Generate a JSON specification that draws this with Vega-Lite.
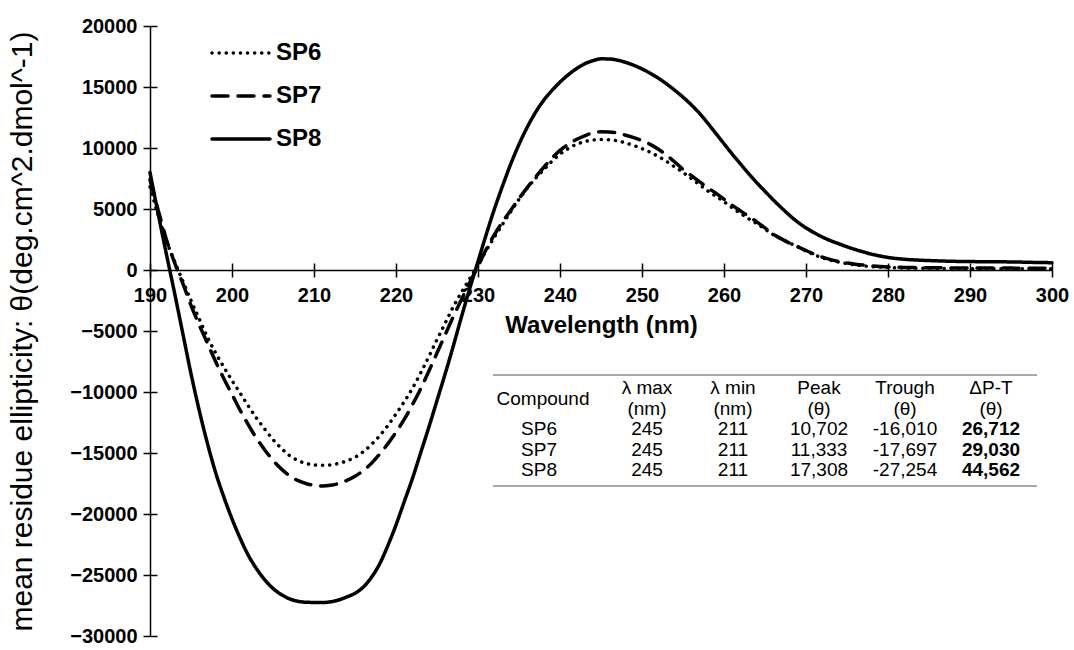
{
  "$schema": "https://vega.github.io/schema/vega-lite/v6.json",
  "width": 902,
  "height": 610,
  "autosize": {"type": "none"},
  "padding": {"left": 150, "top": 26, "right": 22, "bottom": 14},
  "background": "white",
  "config": {"view": {"stroke": null}, "font": "Liberation Sans"},
  "datasets": {
    "cd": [
      {"wl":190,"SP6":6800,"SP7":7400,"SP8":8000},
      {"wl":191,"SP6":4500,"SP7":4900,"SP8":4600},
      {"wl":192,"SP6":2400,"SP7":2500,"SP8":1300},
      {"wl":193,"SP6":700,"SP7":600,"SP8":-1900},
      {"wl":194,"SP6":-900,"SP7":-1100,"SP8":-5200},
      {"wl":195,"SP6":-2500,"SP7":-2900,"SP8":-8500},
      {"wl":196,"SP6":-4000,"SP7":-4500,"SP8":-11500},
      {"wl":197,"SP6":-5500,"SP7":-6000,"SP8":-14200},
      {"wl":198,"SP6":-6800,"SP7":-7500,"SP8":-16600},
      {"wl":199,"SP6":-7950,"SP7":-8900,"SP8":-18600},
      {"wl":200,"SP6":-9050,"SP7":-10200,"SP8":-20400},
      {"wl":201,"SP6":-10100,"SP7":-11500,"SP8":-22000},
      {"wl":202,"SP6":-11150,"SP7":-12700,"SP8":-23400},
      {"wl":203,"SP6":-12150,"SP7":-13800,"SP8":-24500},
      {"wl":204,"SP6":-13050,"SP7":-14750,"SP8":-25400},
      {"wl":205,"SP6":-13900,"SP7":-15600,"SP8":-26100},
      {"wl":206,"SP6":-14600,"SP7":-16300,"SP8":-26600},
      {"wl":207,"SP6":-15200,"SP7":-16850,"SP8":-26950},
      {"wl":208,"SP6":-15600,"SP7":-17250,"SP8":-27150},
      {"wl":209,"SP6":-15850,"SP7":-17500,"SP8":-27230},
      {"wl":210,"SP6":-15980,"SP7":-17650,"SP8":-27250},
      {"wl":211,"SP6":-16010,"SP7":-17697,"SP8":-27254},
      {"wl":212,"SP6":-15980,"SP7":-17650,"SP8":-27200},
      {"wl":213,"SP6":-15850,"SP7":-17500,"SP8":-27050},
      {"wl":214,"SP6":-15650,"SP7":-17250,"SP8":-26800},
      {"wl":215,"SP6":-15350,"SP7":-16900,"SP8":-26500},
      {"wl":216,"SP6":-14900,"SP7":-16450,"SP8":-26000},
      {"wl":217,"SP6":-14300,"SP7":-15850,"SP8":-25200},
      {"wl":218,"SP6":-13600,"SP7":-15100,"SP8":-24100},
      {"wl":219,"SP6":-12750,"SP7":-14250,"SP8":-22600},
      {"wl":220,"SP6":-11800,"SP7":-13300,"SP8":-20900},
      {"wl":221,"SP6":-10800,"SP7":-12250,"SP8":-19000},
      {"wl":222,"SP6":-9700,"SP7":-11050,"SP8":-17100},
      {"wl":223,"SP6":-8450,"SP7":-9750,"SP8":-15000},
      {"wl":224,"SP6":-7100,"SP7":-8300,"SP8":-12900},
      {"wl":225,"SP6":-5700,"SP7":-6800,"SP8":-10700},
      {"wl":226,"SP6":-4350,"SP7":-5300,"SP8":-8500},
      {"wl":227,"SP6":-3000,"SP7":-3800,"SP8":-6200},
      {"wl":228,"SP6":-1800,"SP7":-2400,"SP8":-3800},
      {"wl":229,"SP6":-700,"SP7":-1000,"SP8":-1500},
      {"wl":230,"SP6":400,"SP7":300,"SP8":700},
      {"wl":231,"SP6":1600,"SP7":1700,"SP8":2900},
      {"wl":232,"SP6":2700,"SP7":2900,"SP8":5000},
      {"wl":233,"SP6":3750,"SP7":3950,"SP8":6900},
      {"wl":234,"SP6":4800,"SP7":4900,"SP8":8700},
      {"wl":235,"SP6":5800,"SP7":5850,"SP8":10300},
      {"wl":236,"SP6":6700,"SP7":6750,"SP8":11700},
      {"wl":237,"SP6":7500,"SP7":7600,"SP8":12900},
      {"wl":238,"SP6":8200,"SP7":8400,"SP8":13900},
      {"wl":239,"SP6":8900,"SP7":9150,"SP8":14700},
      {"wl":240,"SP6":9500,"SP7":9800,"SP8":15400},
      {"wl":241,"SP6":9950,"SP7":10300,"SP8":16000},
      {"wl":242,"SP6":10300,"SP7":10700,"SP8":16500},
      {"wl":243,"SP6":10520,"SP7":11000,"SP8":16900},
      {"wl":244,"SP6":10650,"SP7":11230,"SP8":17150},
      {"wl":245,"SP6":10702,"SP7":11333,"SP8":17308},
      {"wl":246,"SP6":10680,"SP7":11320,"SP8":17300},
      {"wl":247,"SP6":10580,"SP7":11220,"SP8":17200},
      {"wl":248,"SP6":10420,"SP7":11050,"SP8":17020},
      {"wl":249,"SP6":10200,"SP7":10850,"SP8":16780},
      {"wl":250,"SP6":9950,"SP7":10600,"SP8":16480},
      {"wl":251,"SP6":9650,"SP7":10300,"SP8":16130},
      {"wl":252,"SP6":9300,"SP7":9900,"SP8":15720},
      {"wl":253,"SP6":8900,"SP7":9400,"SP8":15250},
      {"wl":254,"SP6":8450,"SP7":8850,"SP8":14730},
      {"wl":255,"SP6":8000,"SP7":8250,"SP8":14170},
      {"wl":256,"SP6":7500,"SP7":7750,"SP8":13550},
      {"wl":257,"SP6":7000,"SP7":7250,"SP8":12850},
      {"wl":258,"SP6":6500,"SP7":6750,"SP8":12050},
      {"wl":259,"SP6":6050,"SP7":6300,"SP8":11200},
      {"wl":260,"SP6":5600,"SP7":5800,"SP8":10350},
      {"wl":261,"SP6":5100,"SP7":5300,"SP8":9500},
      {"wl":262,"SP6":4650,"SP7":4850,"SP8":8700},
      {"wl":263,"SP6":4200,"SP7":4400,"SP8":7900},
      {"wl":264,"SP6":3800,"SP7":3950,"SP8":7150},
      {"wl":265,"SP6":3350,"SP7":3450,"SP8":6450},
      {"wl":266,"SP6":2900,"SP7":2950,"SP8":5750},
      {"wl":267,"SP6":2550,"SP7":2550,"SP8":5100},
      {"wl":268,"SP6":2200,"SP7":2200,"SP8":4480},
      {"wl":269,"SP6":1900,"SP7":1900,"SP8":3920},
      {"wl":270,"SP6":1550,"SP7":1600,"SP8":3450},
      {"wl":271,"SP6":1250,"SP7":1300,"SP8":3050},
      {"wl":272,"SP6":1000,"SP7":1050,"SP8":2700},
      {"wl":273,"SP6":800,"SP7":850,"SP8":2400},
      {"wl":274,"SP6":650,"SP7":700,"SP8":2150},
      {"wl":275,"SP6":520,"SP7":580,"SP8":1900},
      {"wl":276,"SP6":420,"SP7":480,"SP8":1680},
      {"wl":277,"SP6":340,"SP7":400,"SP8":1480},
      {"wl":278,"SP6":280,"SP7":340,"SP8":1300},
      {"wl":279,"SP6":240,"SP7":290,"SP8":1150},
      {"wl":280,"SP6":200,"SP7":250,"SP8":1030},
      {"wl":282,"SP6":160,"SP7":210,"SP8":880},
      {"wl":284,"SP6":140,"SP7":190,"SP8":800},
      {"wl":286,"SP6":130,"SP7":180,"SP8":750},
      {"wl":288,"SP6":120,"SP7":170,"SP8":710},
      {"wl":290,"SP6":110,"SP7":170,"SP8":690},
      {"wl":292,"SP6":110,"SP7":160,"SP8":680},
      {"wl":294,"SP6":100,"SP7":160,"SP8":670},
      {"wl":296,"SP6":100,"SP7":150,"SP8":650},
      {"wl":298,"SP6":100,"SP7":150,"SP8":620},
      {"wl":300,"SP6":100,"SP7":150,"SP8":600}
    ],
    "tbl": [
      {"row":"head","c0":"Compound","c1":"λ max\n(nm)","c2":"λ min\n(nm)","c3":"Peak\n(θ)","c4":"Trough\n(θ)","c5":"ΔP-T\n(θ)"},
      {"row":"SP6","c0":"SP6","c1":"245","c2":"211","c3":"10,702","c4":"-16,010","c5":"26,712"},
      {"row":"SP7","c0":"SP7","c1":"245","c2":"211","c3":"11,333","c4":"-17,697","c5":"29,030"},
      {"row":"SP8","c0":"SP8","c1":"245","c2":"211","c3":"17,308","c4":"-27,254","c5":"44,562"}
    ]
  },
  "layer": [
    {
      "layer": [
        {
          "data": {"name": "cd"},
          "transform": [{"fold": ["SP6", "SP7", "SP8"], "as": ["sp", "t"]}],
          "mark": {"type": "line", "color": "black", "strokeWidth": 3.5, "strokeCap": "round", "interpolate": "monotone"},
          "encoding": {
            "x": {
              "field": "wl", "type": "quantitative",
              "scale": {"domain": [190, 300], "nice": false, "zero": false},
              "axis": {
                "orient": "bottom", "offset": -366,
                "values": [190, 200, 210, 220, 230, 240, 250, 260, 270, 280, 290, 300],
                "format": "d", "grid": false,
                "domainColor": "black", "domainWidth": 1.5,
                "tickColor": "black", "tickWidth": 1.5, "tickSize": 7,
                "labelFont": "Liberation Sans", "labelFontSize": 20, "labelFontWeight": "bold", "labelColor": "black",
                "labelPadding": 8, "labelFlush": false, "labelOverlap": false,
                "title": "Wavelength (nm)", "titleFont": "Liberation Sans", "titleFontSize": 24, "titleFontWeight": "bold", "titleColor": "black", "titlePadding": 8
              }
            },
            "y": {
              "field": "t", "type": "quantitative",
              "scale": {"domain": [-30000, 20000], "nice": false, "zero": false},
              "axis": {
                "orient": "left",
                "values": [-30000, -25000, -20000, -15000, -10000, -5000, 0, 5000, 10000, 15000, 20000],
                "format": "d", "grid": false,
                "domainColor": "black", "domainWidth": 1.5,
                "tickColor": "black", "tickWidth": 1.5, "tickSize": 7,
                "labelFont": "Liberation Sans", "labelFontSize": 20, "labelFontWeight": "bold", "labelColor": "black",
                "labelPadding": 6, "labelOverlap": false,
                "title": "mean residue ellipticity: θ(deg.cm^2.dmol^-1)", "titleFont": "Liberation Sans", "titleFontSize": 30, "titleFontWeight": "normal", "titleColor": "black", "titlePadding": 32
              }
            },
            "strokeDash": {
              "field": "sp", "type": "nominal",
              "scale": {"domain": ["SP6", "SP7", "SP8"], "range": [[0.1, 7], [16, 10], [1, 0]]},
              "legend": {
                "orient": "none", "legendX": 60, "legendY": -4, "title": null,
                "symbolType": "stroke", "symbolSize": 3364, "symbolStrokeWidth": 3.5, "symbolStrokeColor": "black",
                "labelFont": "Liberation Sans", "labelFontSize": 24, "labelFontWeight": "bold", "labelColor": "black",
                "labelOffset": 4, "rowPadding": -18, "padding": 0,
                "encode": {"symbols": {"update": {"strokeCap": {"value": "round"}}}}
              }
            },
            "detail": {"field": "sp"}
          }
        },
        {
          "data": {"values": [{}]},
          "mark": {"type": "point", "opacity": 0},
          "encoding": {
            "x": {"datum": 250, "type": "quantitative", "axis": {"orient": "bottom", "offset": -366, "values": [190, 200, 210, 220, 230, 240, 250, 260, 270, 280, 290, 300], "labels": false, "domain": false, "grid": false, "tickColor": "black", "tickWidth": 1.5, "tickSize": -7, "title": null}},
            "y": {"datum": 0, "type": "quantitative", "axis": {"orient": "left", "values": [-30000, -25000, -20000, -15000, -10000, -5000, 0, 5000, 10000, 15000, 20000], "labels": false, "domain": false, "grid": false, "tickColor": "black", "tickWidth": 1.5, "tickSize": -7, "title": null}}
          }
        },
        {
          "data": {"values": [{}]},
          "mark": {"type": "rule", "color": "#8c8c8c", "strokeWidth": 1.5},
          "encoding": {
            "x": {"datum": 231.83, "type": "quantitative", "axis": null},
            "x2": {"datum": 298.17},
            "y": {"datum": -8607, "type": "quantitative", "axis": null}
          }
        },
        {
          "data": {"values": [{}]},
          "mark": {"type": "rule", "color": "#8c8c8c", "strokeWidth": 1.5},
          "encoding": {
            "x": {"datum": 231.83, "type": "quantitative", "axis": null},
            "x2": {"datum": 298.17},
            "y": {"datum": -17705, "type": "quantitative", "axis": null}
          }
        }
      ],
      "resolve": {"axis": {"x": "independent", "y": "independent"}}
    },
    {
      "data": {"name": "tbl"},
      "transform": [{"fold": ["c0", "c1", "c2", "c3", "c4", "c5"], "as": ["col", "txt"]}],
      "encoding": {
        "x": {"field": "col", "type": "nominal", "scale": {"type": "point", "padding": 0, "domain": ["c0", "c1", "c2", "c3", "c4", "c5"], "range": [411, 841]}, "axis": null},
        "y": {"field": "row", "type": "nominal", "scale": {"type": "point", "padding": 0, "domain": ["head", "gap", "SP6", "SP7", "SP8"], "range": [362, 444]}, "axis": null},
        "text": {"field": "txt"}
      },
      "layer": [
        {
          "transform": [{"filter": "datum.col == 'c0' && datum.row == 'head'"}],
          "mark": {"type": "text", "font": "Liberation Sans", "fontSize": 19, "color": "black", "dx": -18, "dy": 11, "baseline": "middle"}
        },
        {
          "transform": [{"filter": "datum.col == 'c0' && datum.row != 'head'"}],
          "mark": {"type": "text", "font": "Liberation Sans", "fontSize": 19, "color": "black", "dx": -22, "baseline": "middle"}
        },
        {
          "transform": [{"filter": "datum.col != 'c0' && !(datum.col == 'c5' && datum.row != 'head')"}],
          "mark": {"type": "text", "font": "Liberation Sans", "fontSize": 19, "color": "black", "baseline": "middle", "lineBreak": "\n", "lineHeight": 21}
        },
        {
          "transform": [{"filter": "datum.col == 'c5' && datum.row != 'head'"}],
          "mark": {"type": "text", "font": "Liberation Sans", "fontSize": 19, "fontWeight": "bold", "color": "black", "baseline": "middle"}
        }
      ]
    }
  ],
  "resolve": {"scale": {"x": "independent", "y": "independent"}}
}
